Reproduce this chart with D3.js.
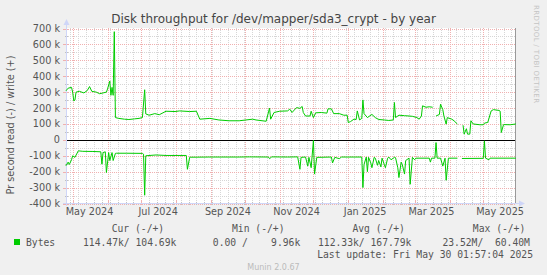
<!DOCTYPE html>
<html><head><meta charset="utf-8">
<script src="https://cdn.jsdelivr.net/npm/d3@7"></script>
<style>body{margin:0;background:#f0f0f0}svg{display:block}</style>
</head><body><svg id="c" width="547" height="275"></svg>
<script>
// ---- data (k bytes / s) ----
const periodStart = "2024-04-25T01:57:04";
const periodEnd = "2025-05-30T01:57:04";

const writeDates = ["2024-04-25","2024-04-27","2024-04-30","2024-05-01","2024-05-02","2024-05-03","2024-05-04","2024-05-07","2024-05-11","2024-05-14","2024-05-16","2024-05-18","2024-05-22","2024-05-25","2024-05-28","2024-05-31","2024-06-01","2024-06-03","2024-06-04","2024-06-05","2024-06-06","2024-06-07","2024-06-08","2024-06-11","2024-06-16","2024-06-20","2024-06-25","2024-06-29","2024-07-02","2024-07-04","2024-07-05","2024-07-08","2024-07-13","2024-07-17","2024-07-23","2024-07-31","2024-08-04","2024-08-13","2024-08-19","2024-08-22","2024-08-31","2024-09-08","2024-09-17","2024-09-26","2024-10-08","2024-10-11","2024-10-20","2024-10-23","2024-10-24","2024-10-27","2024-11-01","2024-11-08","2024-11-10","2024-11-12","2024-11-16","2024-11-19","2024-11-21","2024-11-22","2024-11-24","2024-11-28","2024-11-29","2024-12-01","2024-12-03","2024-12-08","2024-12-13","2024-12-14","2024-12-17","2024-12-19","2024-12-24","2024-12-28","2024-12-31","2025-01-01","2025-01-03","2025-01-06","2025-01-08","2025-01-09","2025-01-11","2025-01-13","2025-01-14","2025-01-15","2025-01-18","2025-01-22","2025-01-25","2025-01-28","2025-02-02","2025-02-06","2025-02-10","2025-02-11","2025-02-12","2025-02-15","2025-02-20","2025-02-24","2025-02-27","2025-03-03","2025-03-05","2025-03-07","2025-03-08","2025-03-11","2025-03-14","2025-03-17","2025-03-18","2025-03-20","2025-03-23","2025-03-24","2025-03-26","2025-03-27","2025-03-29","2025-03-30","2025-04-03","2025-04-05","2025-04-08","2025-04-10","2025-04-13","2025-04-14","2025-04-16","2025-04-17","2025-04-19","2025-04-20","2025-04-22","2025-04-28","2025-05-01","2025-05-02","2025-05-05","2025-05-08","2025-05-10","2025-05-15","2025-05-16","2025-05-17","2025-05-19","2025-05-25","2025-05-30"];
const writeValues = [308,325,330,300,245,250,300,305,295,310,335,305,300,290,295,300,320,370,280,330,280,680,140,135,130,128,132,135,140,315,163,155,165,158,180,178,182,178,180,130,135,125,120,120,130,125,117,200,130,172,180,182,193,172,203,198,210,172,150,150,180,140,170,172,168,195,195,165,165,155,155,109,115,130,128,182,125,135,251,165,140,160,140,128,125,122,125,235,140,155,152,150,148,140,130,150,214,205,208,205,null,150,160,224,190,150,99,140,130,120,99,null,92,36,70,36,36,120,100,95,95,105,110,182,190,185,180,46,96,95,100];

const readDates = ["2024-04-25","2024-04-27","2024-04-28","2024-04-30","2024-05-01","2024-05-03","2024-05-06","2024-05-10","2024-05-19","2024-05-26","2024-05-27","2024-05-28","2024-05-30","2024-05-31","2024-06-02","2024-06-03","2024-06-05","2024-06-06","2024-06-08","2024-06-09","2024-06-18","2024-07-02","2024-07-03","2024-07-04","2024-07-05","2024-07-14","2024-07-23","2024-08-10","2024-08-11","2024-08-13","2024-08-14","2024-08-30","2024-09-26","2024-10-05","2024-10-22","2024-10-23","2024-10-25","2024-11-08","2024-11-17","2024-11-19","2024-11-20","2024-11-24","2024-11-26","2024-11-27","2024-11-29","2024-12-01","2024-12-02","2024-12-04","2024-12-17","2024-12-18","2024-12-20","2024-12-24","2024-12-26","2025-01-13","2025-01-14","2025-01-15","2025-01-17","2025-01-18","2025-01-19","2025-01-21","2025-01-22","2025-01-24","2025-01-25","2025-01-27","2025-01-28","2025-01-30","2025-01-31","2025-02-02","2025-02-03","2025-02-05","2025-02-06","2025-02-08","2025-02-11","2025-02-12","2025-02-14","2025-02-15","2025-02-17","2025-02-18","2025-02-20","2025-02-21","2025-02-23","2025-02-24","2025-02-25","2025-02-27","2025-03-01","2025-03-02","2025-03-14","2025-03-15","2025-03-16","2025-03-19","2025-03-20","2025-03-21","2025-03-24","2025-03-25","2025-03-26","2025-03-28","2025-03-29","2025-03-31","2025-04-08","2025-04-10","2025-04-12","2025-05-01","2025-05-02","2025-05-03","2025-05-06","2025-05-07","2025-05-30"];
const readValues = [163,140,155,125,100,110,69,72,73,75,153,80,75,205,80,130,80,130,85,84,84,85,90,348,100,95,98,98,185,110,109,108,108,107,108,118,107,108,107,185,110,108,165,110,175,3,215,110,108,145,110,118,108,108,300,155,108,200,110,145,175,110,115,160,130,170,115,155,175,115,108,125,110,112,175,237,140,155,215,130,120,115,279,110,125,115,115,140,115,115,17,115,115,140,165,115,254,115,115,null,117,116,6,115,125,115,115];

const yTicks = [-400,-300,-200,-100,0,100,200,300,400,500,600,700];
const xLabelMonths = ["2024-05-01","2024-07-01","2024-09-01","2024-11-01","2025-01-01","2025-03-01","2025-05-01"];

const title = "Disk throughput for /dev/mapper/sda3_crypt - by year";
const yTitle = "Pr second read (-) / write (+)";
const legendHeaders = ["Cur (-/+)","Min (-/+)","Avg (-/+)","Max (-/+)"];
const legendSeries = "Bytes";
const legendValues = ["114.47k/ 104.69k","0.00 /    9.96k","112.33k/ 167.79k","23.52M/  60.40M"];
const lastUpdate = "Last update: Fri May 30 01:57:04 2025";
const footer = "Munin 2.0.67";
const credit = "RRDTOOL / TOBI OETIKER";

// ---- drawing ----
const svg = d3.select("#c");
const L = 66, R = 516, T = 28, B = 203;
const parse = d3.utcParse("%Y-%m-%d");
const parseT = d3.utcParse("%Y-%m-%dT%H:%M:%S");
const t0 = parseT(periodStart), t1 = parseT(periodEnd);
const x = d3.scaleUtc().domain([t0, t1]).range([L, R]);
const y = d3.scaleLinear().domain([-400, 700]).range([B + 0.5, T + 0.5]);
const px = v => Math.round(v) + 0.5;
const minorCol = "#d6d6d6", majorCol = "#f0b0b0";

svg.append("rect").attr("width", 547).attr("height", 275).attr("fill", "#f0f0f0");
svg.append("rect").attr("x", L).attr("y", T).attr("width", R - L).attr("height", B - T + 1).attr("fill", "#ffffff");

const grid = svg.append("g").attr("shape-rendering", "crispEdges");
d3.range(-400, 701, 50).filter(v => v % 100 !== 0).forEach(v => {
  grid.append("line").attr("x1", L).attr("x2", R).attr("y1", px(y(v))).attr("y2", px(y(v)))
    .attr("stroke", minorCol).attr("stroke-dasharray", "1,1");
});
d3.utcMonday.range(t0, t1).forEach(d => {
  grid.append("line").attr("y1", T).attr("y2", B).attr("x1", px(x(d))).attr("x2", px(x(d)))
    .attr("stroke", minorCol).attr("stroke-dasharray", "1,1");
});
yTicks.forEach(v => {
  grid.append("line").attr("x1", L).attr("x2", R).attr("y1", px(y(v))).attr("y2", px(y(v)))
    .attr("stroke", majorCol).attr("stroke-dasharray", "1,1");
});
d3.utcMonth.range(t0, t1).forEach(d => {
  grid.append("line").attr("y1", T).attr("y2", B).attr("x1", px(x(d))).attr("x2", px(x(d)))
    .attr("stroke", majorCol).attr("stroke-dasharray", "1,1");
});

const ticks = svg.append("g").attr("shape-rendering", "crispEdges");
yTicks.forEach(v => {
  ticks.append("line").attr("x1", L - 3).attr("x2", L + 2).attr("y1", px(y(v))).attr("y2", px(y(v))).attr("stroke", majorCol);
});
d3.range(-400, 701, 50).filter(v => v % 100 !== 0).forEach(v => {
  ticks.append("line").attr("x1", L - 1).attr("x2", L + 2).attr("y1", px(y(v))).attr("y2", px(y(v))).attr("stroke", "#c0c0c0");
});
d3.utcMonday.range(t0, t1).forEach(d => {
  ticks.append("line").attr("y1", B - 1).attr("y2", B + 2).attr("x1", px(x(d))).attr("x2", px(x(d))).attr("stroke", "#c0c0c0");
});
d3.utcMonth.range(t0, t1).forEach(d => {
  ticks.append("line").attr("y1", B - 3).attr("y2", B + 2).attr("x1", px(x(d))).attr("x2", px(x(d))).attr("stroke", majorCol);
});

svg.append("line").attr("x1", L).attr("x2", R).attr("y1", px(y(0))).attr("y2", px(y(0)))
  .attr("stroke", "#000").attr("shape-rendering", "crispEdges");

svg.append("line").attr("x1", R - 0.5).attr("x2", R - 0.5).attr("y1", T).attr("y2", B)
  .attr("stroke", "#999").attr("shape-rendering", "crispEdges");

const axisCol = "#cfd6f8";
svg.append("line").attr("x1", L + 0.5).attr("x2", L + 0.5).attr("y1", B + 3).attr("y2", T - 5).attr("stroke", axisCol).attr("shape-rendering", "crispEdges");
svg.append("line").attr("x1", L - 3).attr("x2", R + 4).attr("y1", B + 0.5).attr("y2", B + 0.5).attr("stroke", axisCol).attr("shape-rendering", "crispEdges");
svg.append("path").attr("d", `M${L - 2.5},${T - 3}L${L + 3.5},${T - 3}L${L + 0.5},${T - 9}Z`).attr("fill", axisCol);
svg.append("path").attr("d", `M${R + 3},${B - 2.5}L${R + 3},${B + 3.5}L${R + 9},${B + 0.5}Z`).attr("fill", axisCol);

const line = d3.line().defined(d => d.v != null).x(d => x(d.t)).y(d => y(d.v));
const writeData = writeDates.map((s, i) => ({t: parse(s), v: writeValues[i]}));
const readData = readDates.map((s, i) => ({t: parse(s), v: readValues[i] == null ? null : -readValues[i]}));
[writeData, readData].forEach(data => {
  svg.append("path").datum(data).attr("d", line).attr("fill", "none").attr("stroke", "#00cc00").attr("stroke-width", 1);
});

const font = "DejaVu Sans, sans-serif";
const mono = "DejaVu Sans Mono, monospace";
svg.append("text").attr("x", 273.5).attr("y", 23).attr("text-anchor", "middle")
  .attr("font-family", font).attr("font-size", 12).attr("fill", "#444").text(title);

yTicks.forEach(v => {
  svg.append("text").attr("x", 60).attr("y", y(v) + 3.5).attr("text-anchor", "end")
    .attr("font-family", font).attr("font-size", 9.7).attr("fill", "#555")
    .text(v === 0 ? "0" : v + " k");
});
svg.append("text").attr("transform", "translate(14,125) rotate(-90)").attr("text-anchor", "middle")
  .attr("font-family", font).attr("font-size", 9.7).attr("fill", "#555").text(yTitle);

const fmt = d3.utcFormat("%b %Y");
xLabelMonths.forEach(s => {
  const d = d3.utcDay.offset(parse(s), 15);
  svg.append("text").attr("x", x(d)).attr("y", 215).attr("text-anchor", "middle")
    .attr("font-family", font).attr("font-size", 9.7).attr("fill", "#555").text(fmt(parse(s)));
});

const hdrX = [111.7, 232, 352.4, 472.8];
legendHeaders.forEach((h, i) => {
  svg.append("text").attr("x", hdrX[i]).attr("y", 232).attr("font-family", mono).attr("font-size", 9.7)
    .attr("fill", "#555").style("white-space", "pre").text(h);
});
svg.append("rect").attr("x", 14).attr("y", 239).attr("width", 6).attr("height", 6).attr("fill", "#00cc00");
svg.append("text").attr("x", 26).attr("y", 245.5).attr("font-family", mono).attr("font-size", 9.7).attr("fill", "#555").text(legendSeries);
const valX = [83, 212.8, 318, 442.4];
legendValues.forEach((v, i) => {
  svg.append("text").attr("x", valX[i]).attr("y", 245.5).attr("font-family", mono).attr("font-size", 9.7)
    .attr("fill", "#555").style("white-space", "pre").text(v);
});
svg.append("text").attr("x", 533).attr("y", 257.5).attr("text-anchor", "end").attr("font-family", mono)
  .attr("font-size", 9.7).attr("fill", "#555").text(lastUpdate);
svg.append("text").attr("x", 273.5).attr("y", 270).attr("text-anchor", "middle").attr("font-family", font)
  .attr("font-size", 8).attr("fill", "#bbb").text(footer);
const cr = svg.append("text").attr("transform", "translate(534,5) rotate(90)").attr("font-family", font)
  .attr("font-size", 7).attr("fill", "#c4c4c4").style("white-space", "pre").text(credit);
const natural = cr.node().getComputedTextLength();
const targetLen = 98;
cr.attr("letter-spacing", Math.max(0, (targetLen - natural) / (credit.length - 1)));
</script>
</body></html>
